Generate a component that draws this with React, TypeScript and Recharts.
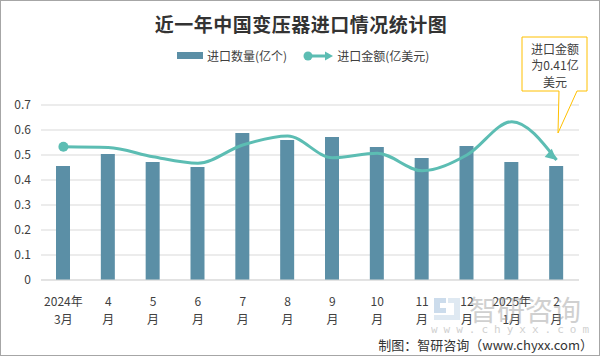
import { ComposedChart, Bar, Line, XAxis, YAxis, CartesianGrid } from "recharts";

const months = ["2024年|3月", "4|月", "5|月", "6|月", "7|月", "8|月", "9|月", "10|月", "11|月", "12|月", "2025年|1月", "2|月"];
const quantity = [0.456, 0.504, 0.472, 0.452, 0.588, 0.56, 0.572, 0.532, 0.488, 0.536, 0.472, 0.456];
const amount = [0.533, 0.53, 0.493, 0.467, 0.54, 0.576, 0.489, 0.507, 0.437, 0.5, 0.633, 0.48];
const yTicks = [0, 0.1, 0.2, 0.3, 0.4, 0.5, 0.6, 0.7];

const BAR = "#5b8fa6";
const LINE = "#5cbdb3";
const TEXT = "#404040";
const FONT = "'Noto Sans CJK SC', 'Noto Sans', sans-serif";

const data = months.map((m, i) => ({ month: m, quantity: quantity[i], amount: amount[i] }));

function MonthTick(props: any) {
  const { x, y, payload } = props;
  const [top, bottom] = String(payload.value).split("|");
  return (
    <g>
      <text x={x} y={y + 12} textAnchor="middle" dominantBaseline="central" fontSize={12} fill={TEXT} fontFamily={FONT}>
        {top}
      </text>
      <text x={x} y={y + 30} textAnchor="middle" dominantBaseline="central" fontSize={12} fill={TEXT} fontFamily={FONT}>
        {bottom}
      </text>
    </g>
  );
}

function AmountDot(props: any) {
  const { cx, cy, index, points } = props;
  if (index === 0) return <circle key="start" cx={cx} cy={cy} r={5} fill={LINE} />;
  if (index === amount.length - 1) {
    let ang = (40 * Math.PI) / 180;
    if (points && points.length > 1) {
      const p = points[points.length - 2];
      ang = Math.atan2(cy - p.y, cx - p.x);
    }
    const len = 11;
    const half = 5.5;
    const bx = cx - len * Math.cos(ang);
    const by = cy - len * Math.sin(ang);
    const nx = -Math.sin(ang) * half;
    const ny = Math.cos(ang) * half;
    return (
      <polygon
        key="end"
        points={`${cx},${cy} ${bx + nx},${by + ny} ${bx - nx},${by - ny}`}
        fill={LINE}
      />
    );
  }
  return <g key={`d${index}`} />;
}

export default function App() {
  return (
    <div
      style={{
        position: "absolute",
        left: 0,
        top: 0,
        width: 600,
        height: 356,
        boxSizing: "border-box",
        border: "1px solid #a6a6a6",
        background: "#fff",
        fontFamily: FONT,
        overflow: "hidden",
      }}
    >
      <div
        style={{
          position: "absolute",
          left: 0,
          top: 9,
          width: 600,
          textAlign: "center",
          fontSize: 19,
          fontWeight: 700,
          color: "#333",
          letterSpacing: 0.5,
        }}
      >
        近一年中国变压器进口情况统计图
      </div>

      <div
        style={{
          position: "absolute",
          left: 176,
          top: 46,
          display: "flex",
          alignItems: "center",
          fontSize: 12,
          color: TEXT,
          whiteSpace: "nowrap",
        }}
      >
        <span style={{ width: 26, height: 7, background: BAR, display: "inline-block", marginRight: 4 }} />
        <span>进口数量(亿个)</span>
        <svg width={30} height={12} style={{ marginLeft: 16, marginRight: 4 }}>
          <line x1={3} y1={6} x2={24} y2={6} stroke={LINE} strokeWidth={3} />
          <circle cx={5} cy={6} r={4.5} fill={LINE} />
          <polygon points="30,6 22,1.5 22,10.5" fill={LINE} />
        </svg>
        <span>进口金额(亿美元)</span>
      </div>

      <div style={{ position: "absolute", left: -1, top: -1 }}>
        <ComposedChart width={600} height={356} data={data} margin={{ top: 105, right: 21, bottom: 26, left: 0 }} barCategoryGap={31}>
          <CartesianGrid vertical={false} stroke="#d9d9d9" />
          <XAxis
            dataKey="month"
            axisLine={{ stroke: "#d9d9d9" }}
            tickLine={false}
            interval={0}
            height={50}
            tick={<MonthTick />}
          />
          <YAxis
            domain={[0, 0.7]}
            ticks={yTicks}
            width={41}
            axisLine={false}
            tickLine={false}
            tickMargin={4}
            tick={{ fontSize: 12, fill: TEXT, fontFamily: FONT }}
          />
          <Bar dataKey="quantity" fill={BAR} barSize={14} isAnimationActive={false} />
          <Line
            dataKey="amount"
            type="monotone"
            stroke={LINE}
            strokeWidth={3}
            dot={AmountDot}
            activeDot={false}
            isAnimationActive={false}
          />
        </ComposedChart>
      </div>

      <svg width={600} height={356} style={{ position: "absolute", left: -1, top: -1, pointerEvents: "none" }}>
        <path d="M522,37 H587 V91 H577 L558,133 L559,91 H522 Z" fill="#fff" stroke="#ffc000" strokeWidth={1} />
        <text x={555} y={48} textAnchor="middle" dominantBaseline="central" fontSize={12} fill={TEXT} fontFamily={FONT}>
          进口金额
        </text>
        <text x={555} y={64} textAnchor="middle" dominantBaseline="central" fontSize={12} fill={TEXT} fontFamily={FONT}>
          为0.41亿
        </text>
        <text x={555} y={81} textAnchor="middle" dominantBaseline="central" fontSize={12} fill={TEXT} fontFamily={FONT}>
          美元
        </text>

        <g opacity={0.45}>
          <path d="M434,298 H446 V303 H440 V308 H446 V313 H434 Z" fill="#8fb3d6" />
          <path d="M448,298 H460 V320 H434 V315 H454 V303 H448 Z" fill="#b9cfe4" />
          <text x={469} y={309} dominantBaseline="central" fontSize={28} fill="#999" fontFamily={FONT}>
            智研咨询
          </text>
          <text x={431} y={329} dominantBaseline="central" fontSize={11} fill="#999" letterSpacing={6} fontFamily="'DejaVu Sans Mono', monospace">
            www.chyxx.com
          </text>
        </g>

        <text x={593} y={344} textAnchor="end" dominantBaseline="central" fontSize={13} fill="#333" fontFamily={FONT}>
          制图：智研咨询（www.chyxx.com）
        </text>
      </svg>
    </div>
  );
}
